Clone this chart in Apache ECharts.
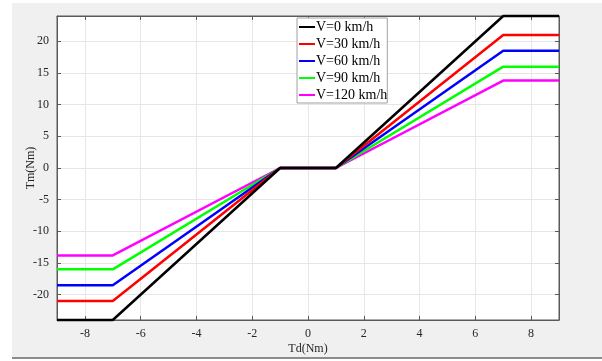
<!DOCTYPE html>
<html>
<head>
<meta charset="utf-8">
<script src="https://cdn.jsdelivr.net/npm/echarts@6/dist/echarts.min.js"></script>
<style>
  html, body { margin: 0; padding: 0; background: #fff; }
  #chart { width: 602px; height: 361px; }
</style>
</head>
<body>
<div id="chart"></div>
<script>
// torque demand (x) break points
const tdPoints = [-9, -7, -1, 1, 7, 9];
const speedNames = ["V=0 km/h", "V=30 km/h", "V=60 km/h", "V=90 km/h", "V=120 km/h"];
const v0 = [-24, -24, 0, 0, 24, 24];
const v30 = [-21, -21, 0, 0, 21, 21];
const v60 = [-18.5, -18.5, 0, 0, 18.5, 18.5];
const v90 = [-16, -16, 0, 0, 16, 16];
const v120 = [-13.8, -13.8, 0, 0, 13.8, 13.8];
const xTicks = [-8, -6, -4, -2, 0, 2, 4, 6, 8];
const yTicks = [-20, -15, -10, -5, 0, 5, 10, 15, 20];
const lineColors = ["#000000", "#ff0000", "#0000ff", "#00ff00", "#ff00ff"];

const seriesValues = [v0, v30, v60, v90, v120];
const font = "Liberation Serif";

const chart = echarts.init(document.getElementById("chart"));

const tickAxisBase = {
  axisLine: { show: true, onZero: false, lineStyle: { color: "#5a5a5a", width: 1 } },
  axisTick: { show: true, inside: true, length: 4, lineStyle: { color: "#5a5a5a" } },
};

const option = {
  animation: false,
  textStyle: { fontFamily: font },
  graphic: [
    {
      type: "rect", z: -10, silent: true,
      shape: { x: 12, y: 3, width: 590, height: 354 },
      style: { fill: "#f0f0f0" }
    },
    {
      type: "line", z: -9, silent: true,
      shape: { x1: 12, y1: 358, x2: 602, y2: 358 },
      style: { stroke: "#8c8c8c", lineWidth: 2 }
    }
  ],
  grid: {
    left: 57, right: 43, top: 16, bottom: 41,
    show: true, backgroundColor: "#ffffff", borderColor: "#5a5a5a", borderWidth: 1
  },
  legend: {
    orient: "vertical",
    left: 297, top: 18,
    data: speedNames,
    backgroundColor: "#ffffff",
    borderColor: "#a0a0a0",
    borderWidth: 1,
    borderRadius: 0,
    padding: [2, 0, 1, 2],
    itemGap: 3,
    itemWidth: 16,
    itemHeight: 10,
    icon: "path://M0,4 L16,4 L16,6 L0,6 Z",
    textStyle: { fontFamily: font, fontSize: 14, color: "#000", padding: [0, 0, 0, -4] },
    selectedMode: false
  },
  xAxis: [
    {
      ...tickAxisBase,
      type: "value", min: -9, max: 9,
      name: "Td(Nm)", nameLocation: "middle", nameGap: 23, nameMoveOverlap: false,
      nameTextStyle: { fontFamily: font, fontSize: 12, color: "#262626" },
      axisTick: { ...tickAxisBase.axisTick, customValues: xTicks },
      axisLabel: { customValues: xTicks, fontFamily: font, fontSize: 12, color: "#262626", margin: 8 },
      splitLine: { show: true, lineStyle: { color: "#e6e6e6", width: 1 } }
    },
    {
      ...tickAxisBase,
      type: "value", min: -9, max: 9, position: "top",
      axisTick: { ...tickAxisBase.axisTick, customValues: xTicks },
      axisLabel: { show: false },
      splitLine: { show: false }
    }
  ],
  yAxis: [
    {
      ...tickAxisBase,
      type: "value", min: -24, max: 24,
      name: "Tm(Nm)", nameLocation: "middle", nameGap: 20, nameRotate: 90, nameMoveOverlap: false,
      nameTextStyle: { fontFamily: font, fontSize: 12, color: "#262626" },
      axisTick: { ...tickAxisBase.axisTick, customValues: yTicks },
      axisLabel: { customValues: yTicks, fontFamily: font, fontSize: 12, color: "#262626", margin: 8 },
      splitLine: { show: true, lineStyle: { color: "#e6e6e6", width: 1 } }
    },
    {
      ...tickAxisBase,
      type: "value", min: -24, max: 24, position: "right",
      axisTick: { ...tickAxisBase.axisTick, customValues: yTicks },
      axisLabel: { show: false },
      splitLine: { show: false }
    }
  ],
  series: speedNames.map((name, i) => ({
    name: name,
    type: "line",
    showSymbol: false,
    clip: false,
    z: 10 - i,
    color: lineColors[i],
    lineStyle: { width: 2.5, color: lineColors[i] },
    data: tdPoints.map((x, k) => [x, seriesValues[i][k]])
  }))
};

chart.setOption(option);
</script>
</body>
</html>
